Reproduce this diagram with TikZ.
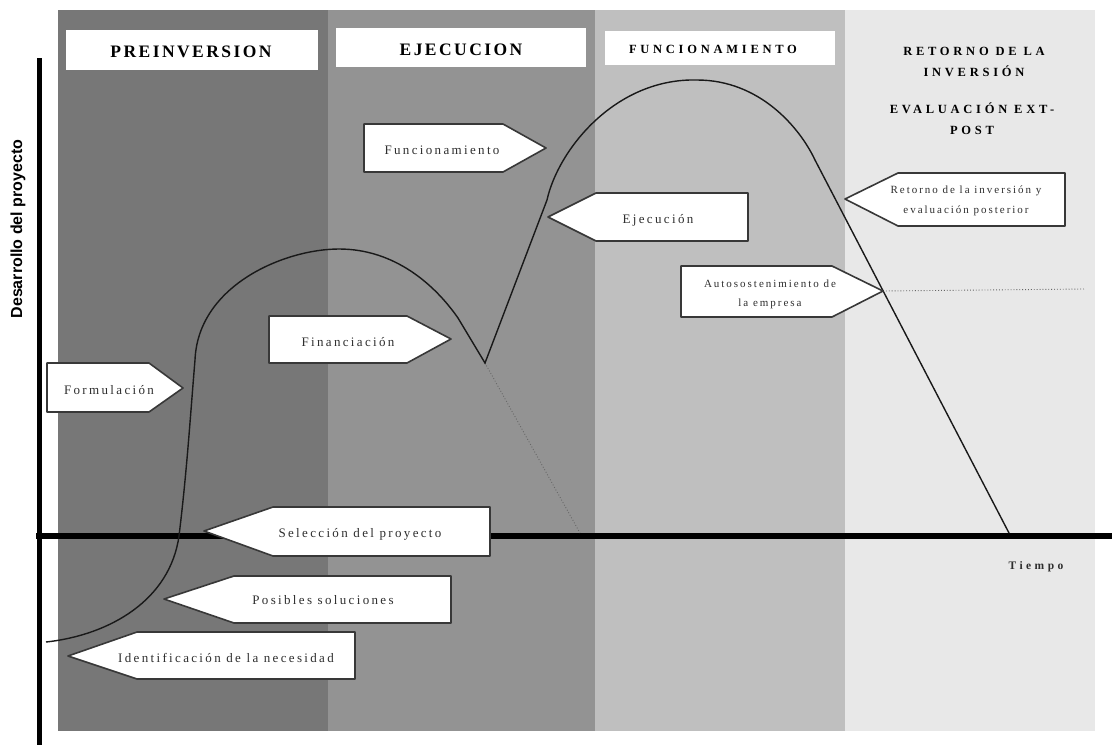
\documentclass[tikz,border=0pt]{standalone}
\usepackage{fontspec}
\setmainfont{Liberation Serif}
\newfontfamily\labfont[LetterSpace=18]{Liberation Serif}
\newfontfamily\smlfont[LetterSpace=18]{Liberation Serif}
\newfontfamily\hdfont[LetterSpace=14]{Liberation Serif}
\newfontfamily\hdsfont[LetterSpace=30]{Liberation Serif}
\newfontfamily\axfont{Liberation Sans}
\definecolor{banda}{HTML}{777777}
\definecolor{bandb}{HTML}{939393}
\definecolor{bandc}{HTML}{BFBFBF}
\definecolor{bandd}{HTML}{E8E8E8}
\definecolor{labgray}{HTML}{2E2E2E}
\tikzset{
  arrowbox/.style={draw=black!78, line width=1.6pt, fill=white, line join=round},
  hdbox/.style={fill=white},
  lab/.style={font=\labfont\fontsize{13}{15}\selectfont, text=labgray, inner sep=0pt},
  lab2/.style={font=\smlfont\fontsize{11}{20}\selectfont, text=labgray, align=center, inner sep=0pt},
  hdbig/.style={font=\hdfont\bfseries\fontsize{17.5}{20}\selectfont, inner sep=0pt},
  hdsml/.style={font=\hdsfont\bfseries\fontsize{12.5}{21}\selectfont, align=center, inner sep=0pt},
  curve/.style={line width=1.4pt, black!90},
  dots/.style={line width=0.9pt, black!60, dotted}
}
\begin{document}
\begin{tikzpicture}[x=1pt,y=-1pt]
\useasboundingbox (0,0) rectangle (1112,745);
\fill[white] (0,0) rectangle (1112,745);
% bands
\fill[banda] (58,10) rectangle (327.5,731);
\fill[bandb] (327.5,10) rectangle (595,731);
\fill[bandc] (595,10) rectangle (845,731);
\fill[bandd] (845,10) rectangle (1095,731);
% header boxes
\fill[hdbox] (66,30) rectangle (318,70);
\fill[hdbox] (336,28) rectangle (586,67);
\fill[hdbox] (605,31) rectangle (835,65);
\node[hdbig] (hpre) at (191,52) {PREINVERSION};
\node[hdbig] (heje) at (461,50) {EJECUCION};
\node[hdsml] (hfun) at (713,49) {FUNCIONAMIENTO};
\node[hdsml] (hret) at (974,62) {RETORNO DE LA\\INVERSIÓN};
\node[hdsml] (heva) at (972,119) {EVALUACIÓN EXT-\\POST};
% axes
\draw[line width=6.5pt] (36,536) -- (1112,536);
\draw[line width=5pt] (39.5,58) -- (39.5,745);
\node[font=\axfont\bfseries\fontsize{16}{18}\selectfont, rotate=90, inner sep=0pt] (ylab) at (18,229) {Desarrollo del proyecto};
\node[font=\hdsfont\bfseries\fontsize{11.5}{14}\selectfont, text=labgray, inner sep=0pt] (tiempo) at (1036,567) {Tiempo};
% dotted guides
\coordinate (v) at (485,363);
\coordinate (vend) at (580,533);
\coordinate (auto) at (883,291);
\coordinate (autoend) at (1084,289);
\draw[dots] (v) -- (vend);
\draw[dots] (auto) -- (autoend);
% curve
\draw[curve] (46,642) .. controls (110,635) and (170,600) .. (179,536)
  .. controls (187,470) and (190,420) .. (195,360)
  .. controls (198,285) and (285,249) .. (339,249)
  .. controls (395,249) and (435,285) .. (458,318)
  -- (v) -- (547,200)
  .. controls (558,150) and (615,78) .. (697,80)
  .. controls (760,80) and (800,128) .. (815,160)
  -- (1009,533);
% arrow boxes
\draw[arrowbox] (364,124) -- (503,124) -- (546,148) -- (503,172) -- (364,172) -- cycle;
\node[lab] (tfun) at (442,150) {Funcionamiento};
\draw[arrowbox] (548,217) -- (596,193) -- (748,193) -- (748,241) -- (596,241) -- cycle;
\node[lab] (teje) at (658,220) {Ejecución};
\draw[arrowbox] (845,199) -- (898,173) -- (1065,173) -- (1065,226) -- (898,226) -- cycle;
\node[lab2] (tret) at (966,201) {Retorno de la inversión y\\evaluación posterior};
\draw[arrowbox] (681,266) -- (832,266) -- (auto) -- (832,317) -- (681,317) -- cycle;
\node[lab2, font=\smlfont\fontsize{11}{19}\selectfont] (taut) at (770,294) {Autosostenimiento de\\la empresa};
\draw[arrowbox] (269,316) -- (407,316) -- (451,339) -- (407,363) -- (269,363) -- cycle;
\node[lab] (tfin) at (348,342) {Financiación};
\draw[arrowbox] (47,363) -- (149,363) -- (183,388) -- (149,412) -- (47,412) -- cycle;
\node[lab] (tfor) at (109,390) {Formulación};
\draw[arrowbox] (204,531) -- (273,507) -- (490,507) -- (490,556) -- (273,556) -- cycle;
\node[lab] (tsel) at (360,534) {Selección del proyecto};
\draw[arrowbox] (164,599) -- (234,576) -- (451,576) -- (451,623) -- (234,623) -- cycle;
\node[lab] (tpos) at (323,600) {Posibles soluciones};
\draw[arrowbox] (68,656) -- (137,632) -- (355,632) -- (355,679) -- (137,679) -- cycle;
\node[lab] (tide) at (226,658) {Identificación de la necesidad};
\end{tikzpicture}
\end{document}
